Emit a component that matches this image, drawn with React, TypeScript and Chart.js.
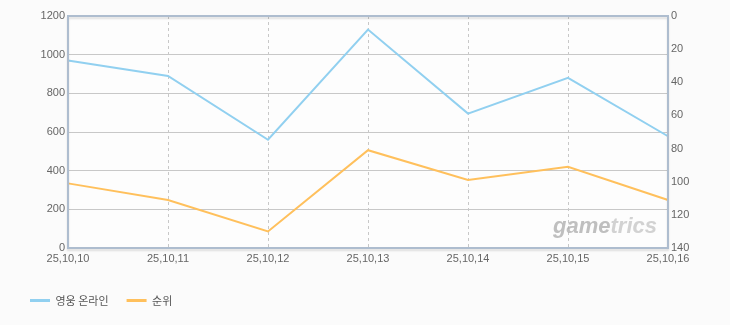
import React, { useEffect, useRef } from "react";
import { Chart, registerables } from "chart.js";

Chart.register(...registerables);

const categories = ["25,10,10", "25,10,11", "25,10,12", "25,10,13", "25,10,14", "25,10,15", "25,10,16"];
const heroOnline = [970, 890, 560, 1130, 695, 880, 578];
const rank = [101, 111, 130, 81, 99, 91, 111];
const seriesNames = ["영웅 온라인", "순위"];
const leftTicks = { min: 0, max: 1200, step: 200 };
const rightTicks = { min: 0, max: 140, step: 20 };

const BLUE = "rgb(145,208,240)";
const ORANGE = "rgb(255,192,92)";
const FONT = "'Liberation Sans', 'Noto Sans CJK KR', sans-serif";

const framePlugin = {
  id: "frame",
  beforeDraw(chart: any) {
    const { ctx, chartArea: a, width, height } = chart;
    ctx.save();
    ctx.fillStyle = "#fbfbfb";
    ctx.fillRect(0, 0, width, height);
    ctx.fillStyle = "#fdfdfd";
    ctx.fillRect(a.left, a.top, a.right - a.left, a.bottom - a.top);
    ctx.restore();
  },
  beforeDatasetsDraw(chart: any) {
    const { ctx, chartArea: a } = chart;
    ctx.save();
    ctx.font = "italic bold 22px 'Liberation Sans', sans-serif";
    ctx.textBaseline = "alphabetic";
    ctx.textAlign = "left";
    const w1 = ctx.measureText("game").width;
    const w2 = ctx.measureText("trics").width;
    const x0 = a.right - 11 - w1 - w2;
    const y0 = a.bottom - 15;
    ctx.fillStyle = "rgba(175,175,175,0.8)";
    ctx.fillText("game", x0, y0);
    ctx.fillStyle = "rgba(195,195,195,0.75)";
    ctx.fillText("trics", x0 + w1, y0);
    ctx.restore();
  },
  afterDraw(chart: any) {
    const { ctx, chartArea: a } = chart;
    ctx.save();
    ctx.shadowColor = "rgba(0,0,0,0.12)";
    ctx.shadowOffsetY = 2;
    ctx.shadowBlur = 2;
    ctx.strokeStyle = "#aebdcf";
    ctx.lineWidth = 2;
    ctx.strokeRect(a.left, a.top, a.right - a.left, a.bottom - a.top);
    ctx.restore();
  },
};

export default function App() {
  const ref = useRef<HTMLCanvasElement | null>(null);

  useEffect(() => {
    if (!ref.current) return;
    document.body.style.background = "#fbfbfb";
    const chart = new Chart(ref.current, {
      type: "line",
      data: {
        labels: categories,
        datasets: [
          {
            label: seriesNames[0],
            data: heroOnline,
            borderColor: BLUE,
            backgroundColor: BLUE,
            borderWidth: 2,
            pointRadius: 0,
            tension: 0,
            yAxisID: "y",
          },
          {
            label: seriesNames[1],
            data: rank,
            borderColor: ORANGE,
            backgroundColor: ORANGE,
            borderWidth: 2,
            pointRadius: 0,
            tension: 0,
            yAxisID: "y1",
          },
        ],
      },
      options: {
        animation: false,
        responsive: true,
        maintainAspectRatio: false,
        layout: { padding: { left: 12, top: 16, right: 0, bottom: 9 } },
        plugins: {
          tooltip: { enabled: false },
          legend: {
            position: "bottom",
            align: "start",
            labels: {
              boxWidth: 20,
              boxHeight: 3,
              padding: 18,
              color: "#555",
              font: { family: "'Noto Sans CJK KR', sans-serif", size: 11 },
              generateLabels: (c: any) =>
                Chart.defaults.plugins.legend.labels
                  .generateLabels(c)
                  .map((l: any) => ({ ...l, lineWidth: 0 })),
            },
          },
        },
        scales: {
          x: {
            offset: false,
            grid: {
              color: "#c8c8c8",
              drawTicks: false,
            },
            border: { display: false, dash: [3, 3] },
            ticks: {
              color: "#666",
              font: { family: FONT, size: 11 },
              padding: 4,
              maxRotation: 0,
              autoSkip: false,
            },
            afterFit: (s: any) => {
              s.height = 29;
            },
          },
          y: {
            position: "left",
            min: leftTicks.min,
            max: leftTicks.max,
            grid: { color: "#c8c8c8", drawTicks: false },
            border: { display: false },
            ticks: {
              stepSize: leftTicks.step,
              color: "#666",
              font: { family: FONT, size: 11 },
              padding: 3,
              callback: (v: any) => String(v),
            },
            afterFit: (s: any) => {
              s.width = 56;
            },
          },
          y1: {
            position: "right",
            reverse: true,
            min: rightTicks.min,
            max: rightTicks.max,
            grid: { display: false, drawTicks: false },
            border: { display: false },
            ticks: {
              stepSize: rightTicks.step,
              color: "#666",
              font: { family: FONT, size: 11 },
              padding: 3,
              callback: (v: any) => String(v),
            },
            afterFit: (s: any) => {
              s.width = 62;
            },
          },
        },
      },
      plugins: [framePlugin],
    } as any);
    return () => chart.destroy();
  }, []);

  return (
    <div style={{ position: "absolute", left: 0, top: 0, width: 730, height: 325 }}>
      <canvas ref={ref} />
    </div>
  );
}
